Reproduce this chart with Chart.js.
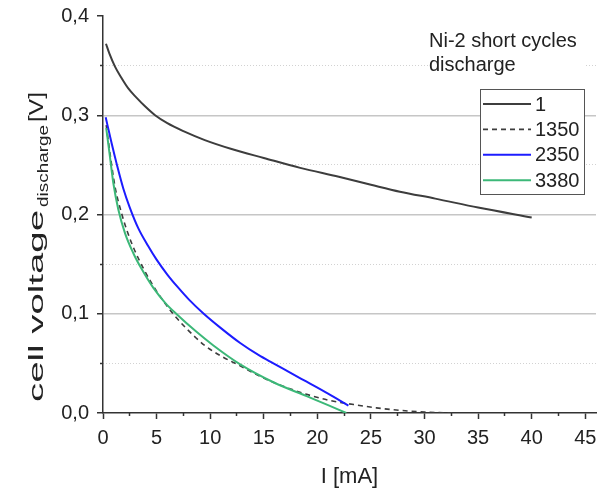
<!DOCTYPE html>
<html>
<head>
<meta charset="utf-8">
<script src="https://cdn.jsdelivr.net/npm/chart.js@4.4.0/dist/chart.umd.min.js"></script>
<style>
  html, body { margin: 0; padding: 0; background: #fff; }
  #wrap { width: 602px; height: 494px; position: relative; }
</style>
</head>
<body>
<div id="wrap"><canvas id="chart"></canvas></div>
<script>
// cycles (legend)
const cycleLabels = ["1", "1350", "2350", "3380"];

// cycle 1
const current1 = [0.28, 0.6, 1.12, 1.7, 2.36, 3.1, 3.92, 4.86, 6, 7.5, 9.5, 12, 15, 18.4, 22, 25, 27.7, 31, 35, 40];
const voltage1 = [0.372, 0.362, 0.349, 0.338, 0.327, 0.318, 0.309, 0.300, 0.292, 0.284, 0.275, 0.266, 0.257, 0.247, 0.238, 0.230, 0.223, 0.216, 0.207, 0.197];

// cycle 1350 (dashed)
const current1350 = [0.3, 0.7, 1.12, 1.74, 2.36, 2.99, 3.8, 4.55, 5.17, 6.57, 7.66, 8.6, 9.5, 11, 12.8, 14.66, 16.2, 19, 21.2, 23.4, 25.5, 27.7, 30, 32.6];
const voltage1350 = [0.29, 0.258, 0.228, 0.201, 0.18, 0.163, 0.145, 0.1305, 0.12, 0.0995, 0.0865, 0.0765, 0.068, 0.0575, 0.0475, 0.037, 0.0295, 0.0188, 0.0125, 0.0085, 0.0052, 0.0027, 0.001, 0];

// cycle 2350
const current2350 = [0.25, 0.8, 1.3, 1.9, 2.5, 3.3, 4.2, 5.0, 6.0, 7.0, 8.0, 9.4, 11.0, 12.8, 14.5, 15.9, 17.5, 19.0, 21.0, 22.9];
const voltage2350 = [0.298, 0.272, 0.250, 0.226, 0.207, 0.186, 0.1685, 0.1545, 0.1395, 0.1265, 0.1145, 0.100, 0.0855, 0.0705, 0.0585, 0.050, 0.0405, 0.0315, 0.0195, 0.0075];

// cycle 3380
const current3380 = [0.3, 0.65, 0.96, 1.43, 2.06, 2.83, 3.61, 4.7, 5.8, 6.88, 8.75, 10.3, 12.8, 15.9, 19.0, 21.0, 22.7];
const voltage3380 = [0.287, 0.258, 0.232, 0.205, 0.181, 0.161, 0.145, 0.126, 0.111, 0.0995, 0.0815, 0.068, 0.049, 0.031, 0.017, 0.008, 0];

// ticks
const xTicks = [0, 5, 10, 15, 20, 25, 30, 35, 40, 45];
const xMinorTicks = [2.5, 7.5, 12.5, 17.5, 22.5, 27.5, 32.5, 37.5, 42.5];
const yTicks = [0, 0.1, 0.2, 0.3, 0.4];
const yMinorTicks = [0.05, 0.15, 0.25, 0.35];

const noteLines = ["Ni-2 short cycles", "discharge"];

function toPoints(xs, ys) {
  return xs.map((x, i) => ({ x: x, y: ys[i] }));
}

Chart.defaults.font.family = "'Liberation Sans', Arial, sans-serif";
Chart.defaults.color = "#222";

// texte etire de l'axe y, note et legende encadree
function stretchText(ctx, text, font, baseX, y0, y1) {
  ctx.save();
  ctx.font = font;
  const w = ctx.measureText(text).width;
  ctx.translate(baseX, y0);
  ctx.rotate(-Math.PI / 2);
  ctx.scale((y0 - y1) / w, 1);
  ctx.textAlign = "left";
  ctx.textBaseline = "alphabetic";
  ctx.fillStyle = "#222";
  ctx.fillText(text, 0, 0);
  ctx.restore();
}

const decor = {
  id: "decor",
  afterDraw(chart) {
    const ctx = chart.ctx;
    const family = Chart.defaults.font.family;

    // titre axe y
    stretchText(ctx, "cell voltage", "21px " + family, 43, 402, 210);
    stretchText(ctx, "discharge", "14px " + family, 48, 207, 125);
    stretchText(ctx, "[V]", "21px " + family, 43, 122, 92);

    // note
    ctx.save();
    ctx.fillStyle = "#fff";
    ctx.fillRect(428, 30, 157, 48);
    ctx.fillStyle = "#222";
    ctx.font = "20px " + family;
    ctx.textAlign = "left";
    ctx.textBaseline = "alphabetic";
    noteLines.forEach((t, i) => ctx.fillText(t, 429, 47 + i * 24));
    ctx.restore();

    // legende
    ctx.save();
    ctx.fillStyle = "#fff";
    ctx.fillRect(480.5, 89.5, 104, 105);
    ctx.strokeStyle = "#555";
    ctx.lineWidth = 1;
    ctx.strokeRect(480.5, 89.5, 104, 105);
    ctx.font = "20px " + family;
    ctx.textBaseline = "middle";
    chart.data.datasets.forEach((ds, i) => {
      const y = 104 + i * 25.4;
      ctx.beginPath();
      ctx.setLineDash(ds.borderDash || []);
      ctx.strokeStyle = ds.borderColor;
      ctx.lineWidth = ds.borderWidth;
      ctx.moveTo(483, y);
      ctx.lineTo(531, y);
      ctx.stroke();
      ctx.setLineDash([]);
      ctx.fillStyle = "#222";
      ctx.fillText(ds.label, 535, y + 1);
    });
    ctx.restore();
  }
};

const ctx = document.getElementById("chart").getContext("2d");

new Chart(ctx, {
  type: "scatter",
  data: {
    datasets: [
      {
        label: cycleLabels[0],
        data: toPoints(current1, voltage1),
        borderColor: "#3d3d3d",
        borderWidth: 2,
        order: 3
      },
      {
        label: cycleLabels[1],
        data: toPoints(current1350, voltage1350),
        borderColor: "#3d3d3d",
        borderWidth: 1.6,
        borderDash: [5, 4],
        order: 2
      },
      {
        label: cycleLabels[2],
        data: toPoints(current2350, voltage2350),
        borderColor: "#1c1cff",
        borderWidth: 2,
        order: 1
      },
      {
        label: cycleLabels[3],
        data: toPoints(current3380, voltage3380),
        borderColor: "#3cb878",
        borderWidth: 2,
        order: 0
      }
    ].map(ds => Object.assign(ds, {
      showLine: true,
      pointRadius: 0,
      cubicInterpolationMode: "monotone",
      xAxisID: "x",
      yAxisID: "y"
    }))
  },
  options: {
    responsive: true,
    maintainAspectRatio: false,
    animation: false,
    layout: { padding: { top: 16, right: 6, bottom: 0, left: 0 } },
    plugins: {
      legend: { display: false },
      tooltip: { enabled: false }
    },
    scales: {
      x: {
        type: "linear",
        position: "bottom",
        min: 0,
        max: 46,
        weight: 1,
        afterBuildTicks: s => { s.ticks = xTicks.map(v => ({ value: v })); },
        afterFit: s => { s.height = 81; s.paddingLeft = 0; s.paddingRight = 0; },
        ticks: { padding: 7, font: { size: 20 }, maxRotation: 0, autoSkip: false },
        grid: { drawOnChartArea: false, tickLength: 6, tickColor: "#333", tickWidth: 1.5 },
        border: { color: "#333", width: 1.5 },
        title: { display: true, text: "I [mA]", font: { size: 22 }, padding: { top: 0, bottom: 4 } }
      },
      xMinor: {
        type: "linear",
        position: "bottom",
        min: 0,
        max: 46,
        weight: 0,
        afterBuildTicks: s => { s.ticks = xMinorTicks.map(v => ({ value: v })); },
        afterFit: s => { s.height = 0; },
        ticks: { display: false },
        grid: { drawOnChartArea: false, tickLength: 3, tickColor: "#333", tickWidth: 1.5 },
        border: { display: false }
      },
      y: {
        type: "linear",
        position: "left",
        min: 0,
        max: 0.4,
        weight: 1,
        afterBuildTicks: s => { s.ticks = yTicks.map(v => ({ value: v })); },
        afterFit: s => { s.width = 103; s.paddingTop = 0; s.paddingBottom = 0; },
        ticks: {
          padding: 8,
          font: { size: 20 },
          callback: v => v.toFixed(1).replace(".", ",")
        },
        grid: {
          color: c => (c.tick && (c.tick.value < 0.01 || c.tick.value > 0.39)) ? "rgba(0,0,0,0)" : "#c6c6c6",
          lineWidth: 1.5,
          tickLength: 6,
          tickColor: "#333",
          tickWidth: 1.5
        },
        border: { color: "#333", width: 1.5 }
      },
      yMinor: {
        type: "linear",
        position: "left",
        min: 0,
        max: 0.4,
        weight: 0,
        afterBuildTicks: s => { s.ticks = yMinorTicks.map(v => ({ value: v })); },
        afterFit: s => { s.width = 0; },
        ticks: { display: false },
        grid: { color: "#d2d2d2", lineWidth: 1, tickLength: 3, tickColor: "#333", tickWidth: 1.5 },
        border: { display: false, dash: [1, 2] }
      }
    }
  },
  plugins: [decor]
});
</script>
</body>
</html>
